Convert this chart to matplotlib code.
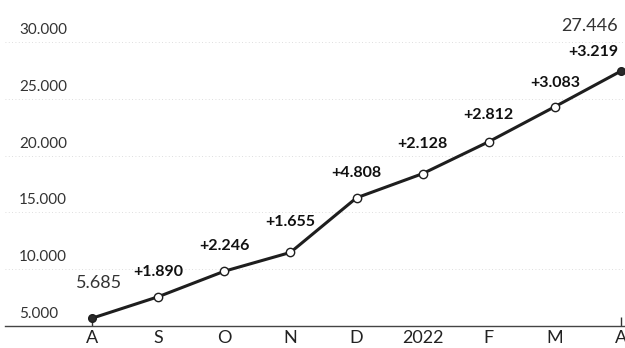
import matplotlib
matplotlib.use("Agg")
import matplotlib.pyplot as plt
import matplotlib.transforms as mtransforms

# Monthly totals (Aug 2021 .. Apr 2022) and month-over-month increments
months = ["A", "S", "O", "N", "D", "2022", "F", "M", "A"]
totals = [5685, 7575, 9821, 11476, 16284, 18412, 21224, 24307, 27446]
increments = [1890, 2246, 1655, 4808, 2128, 2812, 3083, 3219]
y_ticks = [5000, 10000, 15000, 20000, 25000, 30000]


def fmt(v):
    return f"{v:,}".replace(",", ".")


plt.rcParams["font.family"] = ["Lato", "DejaVu Sans"]

fig = plt.figure(figsize=(6.25, 3.48), dpi=100)
ax = fig.add_axes([0.008, 0.0632, 0.992, 0.8161])
x = list(range(len(months)))
ax.set_xlim(-1.316, 8.06)
ax.set_ylim(5000, 30000)

for s in ["top", "right", "left"]:
    ax.spines[s].set_visible(False)
ax.spines["bottom"].set_color("#444444")
ax.spines["bottom"].set_linewidth(1.0)

# faint dotted grid
for v in y_ticks[1:]:
    ax.axhline(v, color="#d4d4d4", lw=0.6, ls=(0, (1, 3)), zorder=0)

ax.set_yticks([])
ax.set_xticks(x)
ax.set_xticklabels(months, fontsize=13, color="#222222")
ax.tick_params(axis="x", length=0, pad=3)

# y labels sit just above their grid lines
ytrans = mtransforms.blended_transform_factory(ax.transAxes, ax.transData)
for v in y_ticks:
    ax.annotate(fmt(v), xy=(0.0226, v), xycoords=ytrans, xytext=(0, 12),
                textcoords="offset pixels", ha="left", va="center",
                fontsize=11, color="#333333", annotation_clip=False)

# short ticks at the first and last month
xtrans = mtransforms.blended_transform_factory(ax.transData, ax.transAxes)
ax.vlines([x[0], x[-1]], 0, 0.03, transform=xtrans, color="#333333", lw=1)

ax.plot(x, totals, color="#1e1e1e", lw=2.2, zorder=3)
ax.plot(x[1:-1], totals[1:-1], ls="none", marker="o", ms=6,
        mfc="white", mec="#1e1e1e", mew=1.0, zorder=4)
ax.plot([x[0], x[-1]], [totals[0], totals[-1]], ls="none", marker="o", ms=5.5,
        mfc="#2a2a2a", mec="#1e1e1e", zorder=4)

inc_offsets = [(0, 25), (0, 25), (0, 30), (0, 25), (0, 30), (0, 27), (0, 24), (-28, 19)]
for i, (d, off) in enumerate(zip(increments, inc_offsets)):
    ax.annotate("+" + fmt(d), xy=(x[i + 1], totals[i + 1]), xytext=off,
                textcoords="offset pixels", ha="center", va="center",
                fontsize=11.5, fontweight="bold", color="#111111",
                annotation_clip=False)

ax.annotate(fmt(totals[0]), xy=(x[0], totals[0]), xytext=(7, 35),
            textcoords="offset pixels", ha="center", va="center",
            fontsize=13, color="#333333", annotation_clip=False)
ax.annotate(fmt(totals[-1]), xy=(x[-1], totals[-1]), xytext=(-3, 45),
            textcoords="offset pixels", ha="right", va="center",
            fontsize=13, color="#333333", annotation_clip=False)

fig.savefig("out.png", dpi=100, facecolor="white")
